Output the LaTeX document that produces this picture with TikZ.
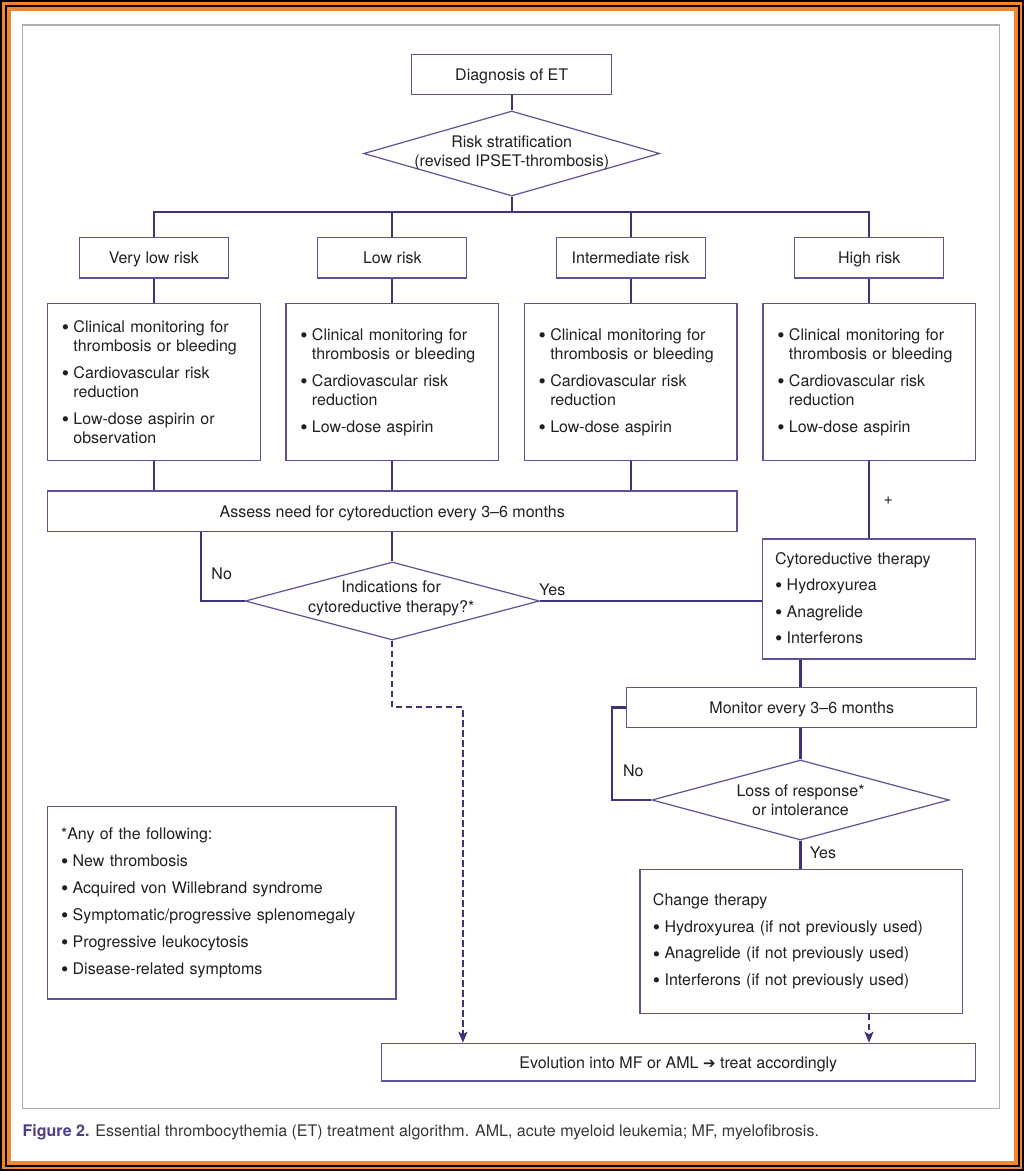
\documentclass[tikz,border=0pt]{standalone}
\usepackage{fontspec}
\setmainfont{TeX Gyre Heros}
\newfontfamily\dejavu{DejaVu Sans}
\usetikzlibrary{shapes.geometric,arrows.meta}
\definecolor{boxc}{RGB}{92,82,150}
\definecolor{linec}{RGB}{64,50,122}
\definecolor{txt}{RGB}{35,31,32}
\definecolor{capc}{RGB}{78,62,135}
\definecolor{captxt}{RGB}{55,55,55}
\definecolor{frameg}{RGB}{175,175,175}
\definecolor{orangeC}{RGB}{242,133,45}
\newcommand\fs{\fontsize{16}{19.4}\selectfont}
\newcommand\bul{\makebox[11.6pt][l]{\raisebox{-2.1pt}{\scalebox{1.3}{\textbullet}}}}
\newcommand\ind{\hspace*{11.6pt}}
\begin{document}
\begin{tikzpicture}[x=1pt,y=-1pt,
  every node/.style={text=txt, font=\fs},
  box/.style={draw=boxc, line width=1.2pt, rectangle, inner sep=0pt, align=center, text height=14.6pt, text depth=2.2pt},
  lbox/.style={draw=boxc, line width=1.2pt, rectangle, inner ysep=0pt, align=left},
  dia/.style={draw=boxc, line width=1.2pt, diamond, inner sep=0pt},
  conn/.style={draw=linec, line width=2.2pt},
  dconn/.style={draw=linec, line width=2pt, dash pattern=on 6.5pt off 3.5pt, -{Stealth[length=11pt,width=9pt,inset=2.5pt]}},
  lab/.style={inner sep=0pt, anchor=base}
]
\useasboundingbox (0,0) rectangle (1024,1171);
% page frame
\fill[black] (0,0) rectangle (1024,1171);
\fill[orangeC] (2,2) rectangle (1022,1169);
\fill[black] (4.5,4.5) rectangle (1019.5,1166.5);
\fill[orangeC] (6.5,6.5) rectangle (1017.5,1164.5);
\fill[white] (10.5,10.5) rectangle (1013.5,1160.5);
\draw[frameg, line width=1.5pt] (22.3,25) rectangle (999.5,1108.5);

% nodes
\node[box, minimum width=200pt, minimum height=40pt] (diag) at (511.7,74.3) {Diagnosis of ET};
\node[dia, minimum width=296pt, minimum height=85pt] (risk) at (511.7,153.5) {};
\node[align=center, inner sep=0pt] (risktxt) at (511.7,153) {Risk stratification\\(revised IPSET-thrombosis)};

\node[box, minimum width=149pt, minimum height=40.5pt] (vlow) at (153.8,257.7) {Very low risk};
\node[box, minimum width=149pt, minimum height=40.5pt] (low) at (392.3,257.7) {Low risk};
\node[box, minimum width=149pt, minimum height=40.5pt] (inter) at (630.6,257.7) {Intermediate risk};
\node[box, minimum width=149pt, minimum height=40.5pt] (high) at (869.3,257.7) {High risk};

\node[lbox, text width=183.9pt, inner xsep=14.4pt, minimum height=157.4pt] (b1) at (153.8,382) {\bul Clinical monitoring for\\\ind thrombosis or bleeding\\[7.2pt]\bul Cardiovascular risk\\\ind reduction\\[7.2pt]\bul Low-dose aspirin or\\\ind observation};
\node[lbox, text width=183.9pt, inner xsep=14.4pt, minimum height=157.4pt] (b2) at (392.3,382) {\bul Clinical monitoring for\\\ind thrombosis or bleeding\\[7.2pt]\bul Cardiovascular risk\\\ind reduction\\[7.2pt]\bul Low-dose aspirin};
\node[lbox, text width=183.9pt, inner xsep=14.4pt, minimum height=157.4pt] (b3) at (630.6,382) {\bul Clinical monitoring for\\\ind thrombosis or bleeding\\[7.2pt]\bul Cardiovascular risk\\\ind reduction\\[7.2pt]\bul Low-dose aspirin};
\node[lbox, text width=183.9pt, inner xsep=14.4pt, minimum height=157.4pt] (b4) at (869.3,382) {\bul Clinical monitoring for\\\ind thrombosis or bleeding\\[7.2pt]\bul Cardiovascular risk\\\ind reduction\\[7.2pt]\bul Low-dose aspirin};

\node[box, minimum width=689.7pt, minimum height=40.3pt] (assess) at (392.2,511.2) {Assess need for cytoreduction every 3–6 months};

\node[dia, minimum width=294.3pt, minimum height=78pt] (indic) at (392.3,601) {};
\node[align=center, inner sep=0pt] (indictxt) at (391.2,598.5) {Indications for\\cytoreductive therapy?*};

\node[lbox, text width=188.4pt, inner xsep=12.3pt, minimum height=120pt] (cyto) at (869.3,599) {Cytoreductive therapy\\[7pt]\bul Hydroxyurea\\[7pt]\bul Anagrelide\\[7pt]\bul Interferons};

\node[box, minimum width=350pt, minimum height=40.4pt] (mon) at (801.7,707.5) {Monitor every 3–6 months};

\node[dia, minimum width=297.3pt, minimum height=80pt] (loss) at (800.5,800) {};
\node[align=center, inner sep=0pt] (losstxt) at (800.5,800.5) {Loss of response*\\or intolerance};

\node[lbox, text width=296.7pt, inner xsep=13pt, minimum height=144pt] (change) at (801.3,941.3) {Change therapy\\[7.5pt]\bul Hydroxyurea (if not previously used)\\[7.5pt]\bul Anagrelide (if not previously used)\\[7.5pt]\bul Interferons (if not previously used)};

\node[box, minimum width=594.3pt, minimum height=37.7pt] (evo) at (678.3,1062.2) {Evolution into MF or AML {\dejavu\bfseries\fontsize{15}{16}\selectfont ➔} treat accordingly};

\node[lbox, text width=321.3pt, inner xsep=13.7pt, minimum height=192.3pt] (foot) at (221.7,902.8) {*Any of the following:\\[7.6pt]\bul New thrombosis\\[7.6pt]\bul Acquired von Willebrand syndrome\\[7.6pt]\bul Symptomatic/progressive splenomegaly\\[7.6pt]\bul Progressive leukocytosis\\[7.6pt]\bul Disease-related symptoms};

% labels
\node[lab] (plus) at (888.3,504.5) {+};
\node[lab] (no1) at (221.7,579) {No};
\node[lab] (yes1) at (552.3,595.5) {Yes};
\node[lab] (no2) at (633.3,776) {No};
\node[lab] (yes2) at (823,858) {Yes};

% connectors
\coordinate (bar) at (511.7,211.7);
\draw[conn] (diag.south) -- (risk.north);
\draw[conn] (risk.south) -- (bar);
\draw[conn] (vlow.north) -- (vlow.north |- bar) -- (high.north |- bar) -- (high.north);
\draw[conn] (low.north) -- (low.north |- bar);
\draw[conn] (inter.north) -- (inter.north |- bar);
\draw[conn] (vlow.south) -- (b1.north);
\draw[conn] (low.south) -- (b2.north);
\draw[conn] (inter.south) -- (b3.north);
\draw[conn] (high.south) -- (b4.north);
\draw[conn] (b1.south) -- (b1.south |- assess.north);
\draw[conn] (b2.south) -- (b2.south |- assess.north);
\draw[conn] (b3.south) -- (b3.south |- assess.north);
\draw[conn] (b4.south) -- (cyto.north);
\draw[conn] (indic.north |- assess.south) -- (indic.north);
\coordinate (noX) at (200.7,0);
\draw[conn] (indic.west) -| (noX |- assess.south);
\draw[conn] (indic.east) -- (indic.east -| cyto.west);
\coordinate (cx) at (800.5,0);
\draw[conn] (cx |- cyto.south) -- (cx |- mon.north);
\draw[conn] (cx |- mon.south) -- (loss.north);
\draw[conn] (loss.south) -- (loss.south |- change.north);
\coordinate (no2X) at (611.7,0);
\draw[conn] (loss.west) -| (no2X |- mon.west) -- (mon.west);
\coordinate (dk) at (462.9,707.3);
\draw[dconn] (indic.south) |- (dk) -- (dk |- evo.north);
\coordinate (dr) at (869,0);
\draw[dconn] (dr |- change.south) -- (dr |- evo.north);

% caption
\node[anchor=base west, inner sep=0pt, text=captxt] (cap) at (22.5,1136) {\textcolor{capc}{\bfseries Figure 2.} Essential thrombocythemia (ET) treatment algorithm. AML, acute myeloid leukemia; MF, myelofibrosis.};
\end{tikzpicture}
\end{document}
